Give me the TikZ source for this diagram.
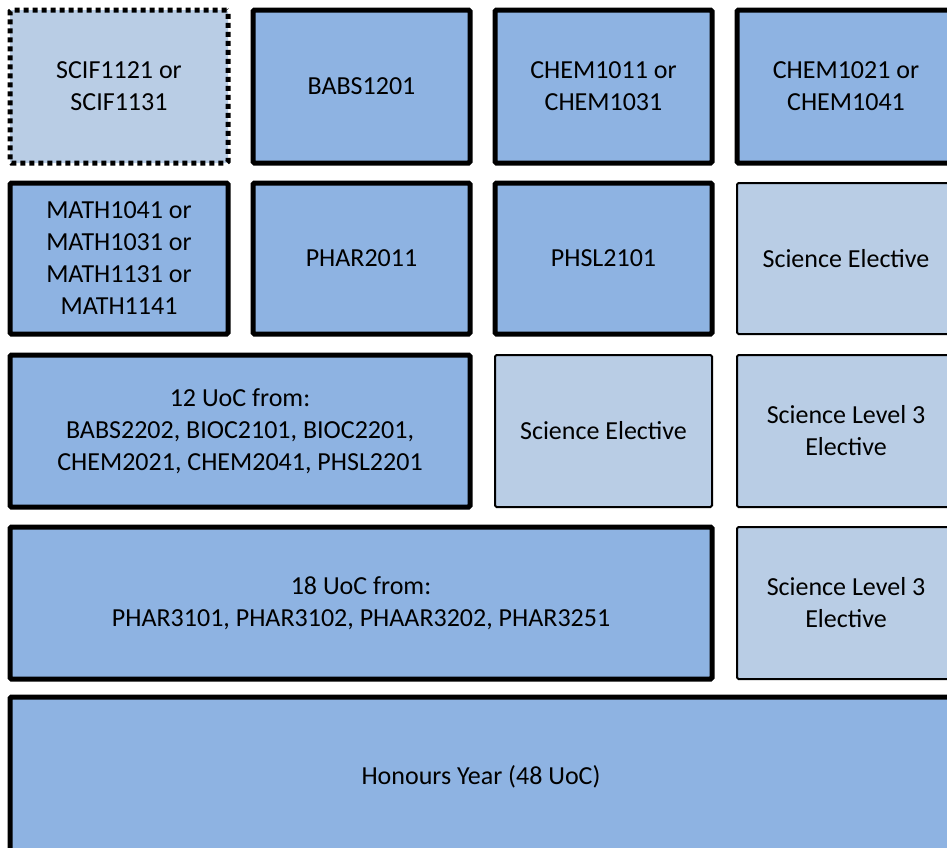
\documentclass[tikz,border=0pt]{standalone}
\usepackage{fontspec}
\setmainfont{Carlito}
\definecolor{coreblue}{HTML}{8EB3E2}
\definecolor{electblue}{HTML}{B9CDE5}
\begin{document}
\begin{tikzpicture}[x=1pt, y=-1pt,
  core/.style = {draw, line width=5pt, rounded corners=1.5pt, fill=coreblue,
    align=center, inner sep=0pt, font=\fontsize{26}{32}\selectfont},
  elect/.style = {core, line width=2pt, fill=electblue},
  opt/.style = {elect, line width=5pt, dash pattern=on 5pt off 4pt}]
\useasboundingbox (0,0) rectangle (947,847);
\clip (0,0) rectangle (947,847);
% first year
\path (119,86.5) node[opt, minimum width=218, minimum height=153] (scif) {SCIF1121 or\\SCIF1131};
\path (361.5,86.5) node[core, minimum width=217, minimum height=153] (babs) {BABS1201};
\path (603.5,86.5) node[core, minimum width=217, minimum height=153] (chemA) {CHEM1011 or\\CHEM1031};
\path (846,86.5) node[core, minimum width=218, minimum height=153] (chemB) {CHEM1021 or\\CHEM1041};
\path (119,258.5) node[core, minimum width=218, minimum height=151] (math) {MATH1041 or\\MATH1031 or\\MATH1131 or\\MATH1141};
\path (361.5,258.5) node[core, minimum width=217, minimum height=151] (phar) {PHAR2011};
\path (603.5,258.5) node[core, minimum width=217, minimum height=151] (phsl) {PHSL2101};
\path (846,258.5) node[elect, minimum width=218, minimum height=151] (elecA) {Science Elective};
% second year
\path (240,431) node[core, minimum width=460, minimum height=152] (twelve) {12 UoC from:\\BABS2202, BIOC2101, BIOC2201,\\CHEM2021, CHEM2041, PHSL2201};
\path (603.5,431) node[elect, minimum width=217, minimum height=152] (elecB) {Science Elective};
\path (846,431) node[elect, minimum width=218, minimum height=152] (levA) {Science Level 3\\Elective};
% third year
\path (361,603) node[core, minimum width=702, minimum height=152] (eighteen) {18 UoC from:\\PHAR3101, PHAR3102, PHAAR3202, PHAR3251};
\path (846,603) node[elect, minimum width=218, minimum height=152] (levB) {Science Level 3\\Elective};
% honours
\path (481,777) node[core, minimum width=942, minimum height=160] (hons) {Honours Year (48 UoC)};
\end{tikzpicture}
\end{document}
